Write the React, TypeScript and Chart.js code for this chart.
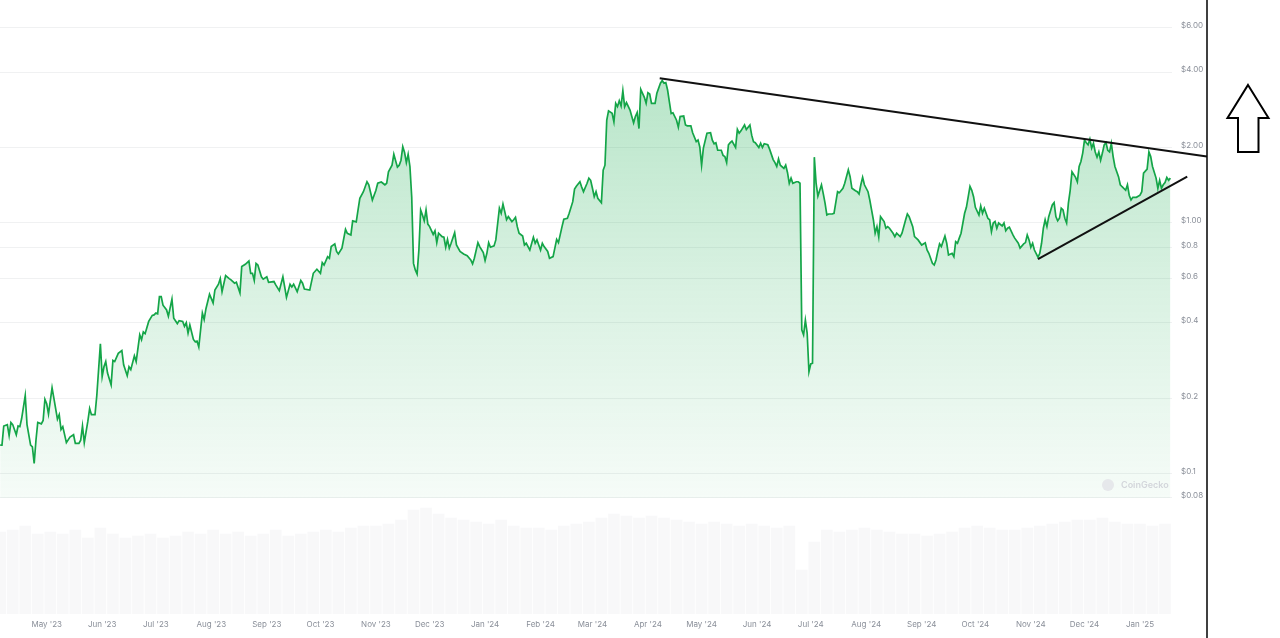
import React, { useEffect, useRef } from "react";
import { Chart, registerables } from "chart.js";

Chart.register(...registerables);

// x values are days since 1 May 2023
const monthDays = [0, 31, 61, 92, 123, 153, 184, 214, 245, 276, 305, 336, 366, 397, 427, 458, 489, 519, 550, 580, 611];
const monthLabels = ["May '23", "Jun '23", "Jul '23", "Aug '23", "Sep '23", "Oct '23", "Nov '23", "Dec '23", "Jan '24", "Feb '24", "Mar '24", "Apr '24", "May '24", "Jun '24", "Jul '24", "Aug '24", "Sep '24", "Oct '24", "Nov '24", "Dec '24", "Jan '25"];

const priceTicks = [0.08, 0.1, 0.2, 0.4, 0.6, 0.8, 1, 2, 4, 6];
const priceTickLabels = ["$0.08", "$0.1", "$0.2", "$0.4", "$0.6", "$0.8", "$1.00", "$2.00", "$4.00", "$6.00"];

// [day, price USD]
const price2023a: [number, number][] = [
  [-26, 0.13], [-25, 0.13], [-24, 0.155], [-22, 0.157], [-21, 0.142], [-20, 0.16], [-19, 0.157], [-17, 0.143], [-16, 0.155], [-15, 0.154], [-14, 0.166], [-12, 0.205], [-11, 0.157], [-9, 0.13], [-8, 0.128], [-7, 0.11], [-6, 0.136], [-5, 0.16], [-3, 0.158], [-2, 0.163], [-1, 0.198], [0, 0.19], [1, 0.173], [3, 0.22], [4, 0.2], [6, 0.165], [7, 0.172], [8, 0.15], [9, 0.154], [11, 0.133], [13, 0.14], [15, 0.143], [16, 0.132], [18, 0.132], [19, 0.136], [20, 0.155], [21, 0.133], [23, 0.162], [24, 0.182], [25, 0.172], [27, 0.172], [28, 0.205], [30, 0.33], [31, 0.244], [32, 0.267], [33, 0.28], [34, 0.252], [36, 0.226], [37, 0.283], [38, 0.28], [40, 0.302], [42, 0.31], [43, 0.272], [45, 0.246], [46, 0.267], [47, 0.26], [49, 0.295], [50, 0.28], [52, 0.358], [53, 0.342], [54, 0.368], [55, 0.362], [57, 0.405], [59, 0.428], [60, 0.43], [61, 0.437], [62, 0.434], [63, 0.508], [64, 0.508], [65, 0.47], [67, 0.45], [68, 0.425], [70, 0.497], [71, 0.417], [73, 0.397], [74, 0.408], [76, 0.405], [77, 0.387], [78, 0.4], [79, 0.364], [80, 0.392], [82, 0.343], [83, 0.336], [84, 0.338], [85, 0.32], [87, 0.437], [88, 0.412], [89, 0.455], [91, 0.52], [93, 0.48], [94, 0.54], [96, 0.57], [97, 0.6], [98, 0.532], [100, 0.617], [102, 0.6], [103, 0.593], [105, 0.575], [106, 0.58], [108, 0.526], [109, 0.67], [111, 0.684], [113, 0.705], [114, 0.63], [115, 0.63], [116, 0.59], [117, 0.69], [118, 0.68], [120, 0.61], [121, 0.597], [123, 0.61], [124, 0.58], [127, 0.584], [128, 0.566], [130, 0.537], [132, 0.61], [133, 0.556], [134, 0.505], [136, 0.57], [137, 0.556], [138, 0.57], [140, 0.532], [142, 0.59], [143, 0.575], [144, 0.545], [147, 0.54], [149, 0.63], [151, 0.654],
];
const price2023b: [number, number][] = [
  [153, 0.63], [154, 0.695], [155, 0.68], [157, 0.734], [158, 0.723], [159, 0.805], [161, 0.825], [162, 0.77], [163, 0.752], [165, 0.794], [167, 0.944], [168, 0.91], [170, 0.896], [171, 1.02], [173, 1.01], [174, 1.127], [175, 1.254], [177, 1.333], [179, 1.46], [180, 1.42], [182, 1.235], [184, 1.35], [185, 1.44], [187, 1.457], [189, 1.42], [190, 1.44], [191, 1.6], [193, 1.7], [194, 1.88], [196, 1.67], [197, 1.7], [198, 1.78], [199, 2.015], [200, 1.91], [201, 1.74], [202, 1.88], [203, 1.68], [204, 1.27], [205, 0.69], [206, 0.65], [207, 0.626], [208, 0.78], [209, 1.127], [210, 1.077], [211, 1.02], [212, 1.127], [213, 0.99], [214, 0.967], [216, 0.9], [217, 0.93], [218, 0.835], [219, 0.91], [221, 0.882], [222, 0.877], [223, 0.8], [224, 0.86], [225, 0.794], [226, 0.83], [228, 0.915], [229, 0.817], [231, 0.77], [233, 0.752], [235, 0.74], [237, 0.712], [238, 0.687], [239, 0.723], [241, 0.835], [242, 0.805], [244, 0.762],
];
const price2024a: [number, number][] = [
  [245, 0.708], [246, 0.757], [247, 0.835], [248, 0.8], [250, 0.81], [251, 0.856], [253, 1.145], [254, 1.093], [255, 1.19], [256, 1.11], [257, 1.03], [258, 1.06], [260, 1.013], [261, 1.03], [262, 1.054], [263, 0.967], [264, 0.91], [266, 0.887], [267, 0.817], [268, 0.83], [270, 0.78], [272, 0.877], [273, 0.83], [274, 0.856], [275, 0.817], [276, 0.78], [277, 0.83], [278, 0.805], [280, 0.77], [281, 0.723], [283, 0.734], [285, 0.86], [286, 0.835], [288, 0.967], [289, 1.035], [291, 1.044], [292, 1.093], [294, 1.216], [295, 1.366], [296, 1.4], [298, 1.46], [299, 1.39], [300, 1.333], [302, 1.44], [303, 1.51], [304, 1.48], [305, 1.375], [306, 1.273], [307, 1.333], [308, 1.254], [310, 1.205], [311, 1.625], [312, 1.7], [313, 2.57], [314, 2.8], [316, 2.74], [317, 2.53], [318, 3.0], [319, 2.91], [320, 3.07], [321, 2.93], [322, 3.37], [323, 2.91], [324, 3.02], [326, 2.82], [327, 2.66], [328, 2.51], [329, 2.66], [330, 2.76], [331, 2.38], [332, 3.41], [334, 3.17], [335, 3.0],
  [336, 3.31], [337, 3.27], [338, 3.0], [340, 3.0], [341, 3.29], [343, 3.61], [344, 3.7], [345, 3.61], [346, 3.63], [347, 3.39], [348, 3.04], [349, 2.73], [350, 2.75], [352, 2.57], [353, 2.41], [354, 2.66], [356, 2.67], [357, 2.46], [358, 2.44], [360, 2.44], [361, 2.29], [363, 2.11], [364, 2.14], [365, 2.01], [366, 1.7], [367, 1.99], [369, 2.28], [371, 2.29], [372, 2.14], [373, 2.07], [374, 2.09], [375, 1.95], [377, 1.95], [378, 1.86], [379, 1.84], [380, 1.74], [381, 2.05], [382, 2.09], [383, 2.12], [385, 2.0], [386, 2.36], [387, 2.28], [388, 2.33], [390, 2.46], [391, 2.36], [393, 2.46], [394, 2.24], [395, 2.11], [396, 2.09], [398, 2.0], [399, 2.08], [400, 2.0], [401, 2.07], [403, 2.05], [404, 1.97], [406, 1.79], [407, 1.74], [408, 1.68], [409, 1.8], [410, 1.7], [412, 1.65], [413, 1.7], [414, 1.59], [415, 1.44], [416, 1.51], [417, 1.44], [419, 1.46], [420, 1.46], [421, 1.44],
];
const price2024b: [number, number][] = [
  [422, 0.375], [423, 0.358], [424, 0.41], [425, 0.364], [426, 0.255], [427, 0.274], [428, 0.276], [429, 1.83], [430, 1.44], [431, 1.28], [433, 1.42], [434, 1.31], [435, 1.2], [436, 1.076], [437, 1.086], [439, 1.086], [440, 1.093], [442, 1.333], [443, 1.32], [445, 1.375], [446, 1.44], [448, 1.63], [449, 1.53], [450, 1.375], [452, 1.345], [453, 1.333], [454, 1.305], [455, 1.42], [456, 1.52], [457, 1.42], [459, 1.333], [460, 1.235], [461, 1.127], [462, 1.03], [463, 0.91], [464, 0.967], [465, 0.88], [466, 1.06], [468, 1.013], [469, 0.953], [470, 0.967], [471, 0.953], [473, 0.91], [474, 0.882], [475, 0.91], [477, 0.882], [478, 0.91], [480, 1.027], [481, 1.086], [482, 1.06], [484, 0.967], [485, 0.882], [487, 0.856], [489, 0.817], [491, 0.834], [492, 0.78], [493, 0.757], [495, 0.69], [496, 0.68], [497, 0.712], [498, 0.77], [499, 0.825], [500, 0.805], [502, 0.887], [503, 0.83], [504, 0.745], [506, 0.757], [507, 0.734], [508, 0.842], [509, 0.83], [510, 0.87], [511, 0.91], [513, 1.093], [514, 1.155], [516, 1.4], [517, 1.35], [518, 1.273],
  [519, 1.155], [521, 1.076], [522, 1.17], [523, 1.093], [524, 1.145], [526, 1.044], [527, 1.03], [528, 0.923], [529, 1.0], [530, 1.013], [531, 0.953], [532, 1.0], [534, 0.973], [535, 1.0], [536, 0.932], [537, 0.953], [538, 0.962], [540, 0.896], [541, 0.87], [543, 0.83], [544, 0.794], [546, 0.825], [547, 0.835], [548, 0.896], [549, 0.856], [550, 0.8], [551, 0.83], [552, 0.78], [554, 0.73], [555, 0.757], [556, 0.83], [557, 0.953], [558, 1.03], [559, 0.967], [560, 1.06], [562, 1.18], [563, 1.205], [564, 1.06], [565, 1.02], [566, 1.044], [567, 1.145], [568, 1.127], [569, 1.044], [570, 1.0], [571, 1.2], [572, 1.35], [573, 1.6], [575, 1.52], [576, 1.46], [577, 1.68], [578, 1.76], [579, 1.9],
];
const price2025: [number, number][] = [
  [580, 2.14], [581, 2.09], [582, 2.05], [583, 2.16], [584, 1.99], [585, 2.08], [586, 1.92], [587, 1.83], [588, 1.92], [589, 1.78], [590, 1.9], [591, 2.05], [592, 2.09], [593, 1.95], [594, 1.92], [595, 2.08], [596, 1.84], [597, 1.68], [599, 1.53], [600, 1.42], [601, 1.395], [603, 1.35], [604, 1.42], [605, 1.29], [606, 1.235], [607, 1.266], [609, 1.266], [611, 1.29], [612, 1.333], [613, 1.58], [615, 1.64], [616, 1.92], [617, 1.84], [618, 1.68], [620, 1.51], [621, 1.375], [622, 1.48], [623, 1.375], [624, 1.42], [625, 1.45], [626, 1.52], [627, 1.48], [628, 1.51],
];

// weekly volume ($M), weeks starting at day -26
const volumeStartDay = -26;
const volumeWeekly = [
  41, 42, 44, 40, 41, 40, 42, 38, 43, 40, 38, 39, 40, 38, 39, 41, 40, 42, 40, 41, 39, 40, 42, 39, 40, 41,
  42, 41, 43, 44, 44, 45, 47, 52, 53, 50, 48, 47, 46, 45, 47, 44, 43, 43, 42, 44, 45, 46, 48, 50, 49, 48,
  49, 48, 47, 46, 45, 46, 45, 44, 45, 44, 43, 44, 22, 36, 42, 41, 42, 43, 42, 41, 40, 40, 39, 40, 41, 43,
  44, 43, 42, 42, 43, 44, 45, 46, 47, 47, 48, 46, 45, 45, 44, 45,
];

// trend lines [day, price]
const resistanceLine: [number, number][] = [[342.6, 3.78], [648.4, 1.842]];
const supportLine: [number, number][] = [[554, 0.718], [637.4, 1.53]];

const X_MIN = -26.1;
const X_MAX = 628.9;
const Y_MIN = 0.02757;
const Y_MAX = 7.75;
const VOL_MAX = 307;

const FONT = "Inter, 'Noto Sans', sans-serif";
const LABEL_COLOR = "#8a8f99";

const decorPlugin = {
  id: "decor",
  afterDatasetsDraw(chart: any) {
    const { ctx, chartArea } = chart;
    const ys = chart.scales.y;
    const baseY = ys.getPixelForValue(0.08);
    ctx.save();
    const wx = chartArea.right - 64;
    const wy = baseY - 13;
    ctx.fillStyle = "#e6e8eb";
    ctx.beginPath();
    ctx.arc(wx, wy, 6, 0, Math.PI * 2);
    ctx.fill();
    ctx.fillStyle = "#d3d6db";
    ctx.font = `600 9px ${FONT}`;
    ctx.textBaseline = "middle";
    ctx.fillText("CoinGecko", wx + 13, wy);
    ctx.restore();
  },
  afterDraw(chart: any) {
    const { ctx, chartArea, height } = chart;
    ctx.save();
    const vx = chartArea.right + 35;
    ctx.strokeStyle = "#000";
    ctx.lineWidth = 1.5;
    ctx.beginPath();
    ctx.moveTo(vx, 0);
    ctx.lineTo(vx, height);
    ctx.stroke();
    const cx = vx + 41;
    ctx.lineWidth = 2;
    ctx.lineJoin = "miter";
    ctx.beginPath();
    ctx.moveTo(cx, 85);
    ctx.lineTo(cx + 20.5, 118);
    ctx.lineTo(cx + 10.5, 118);
    ctx.lineTo(cx + 10.5, 152);
    ctx.lineTo(cx - 10, 152);
    ctx.lineTo(cx - 10, 118);
    ctx.lineTo(cx - 20.5, 118);
    ctx.closePath();
    ctx.stroke();
    ctx.restore();
  },
};

export default function App() {
  const ref = useRef<HTMLCanvasElement>(null);

  useEffect(() => {
    const canvas = ref.current;
    if (!canvas) return;
    Chart.defaults.font.family = FONT;

    const prices = [...price2023a, ...price2023b, ...price2024a, ...price2024b, ...price2025].map(([x, y]) => ({ x, y }));
    const volumes = volumeWeekly.map((v, i) => ({ x: volumeStartDay + i * 7, y: v }));

    const chart = new Chart(canvas, {
      type: "line",
      data: {
        datasets: [
          {
            type: "line",
            data: resistanceLine.map(([x, y]) => ({ x, y })),
            borderColor: "#111",
            borderWidth: 2,
            pointRadius: 0,
            fill: false,
            clip: false,
            yAxisID: "y",
            order: 0,
          } as any,
          {
            type: "line",
            data: supportLine.map(([x, y]) => ({ x, y })),
            borderColor: "#111",
            borderWidth: 2,
            pointRadius: 0,
            fill: false,
            clip: false,
            yAxisID: "y",
            order: 0,
          } as any,
          {
            type: "line",
            data: prices,
            borderColor: "rgb(20,165,72)",
            borderWidth: 1.7,
            pointRadius: 0,
            tension: 0,
            yAxisID: "y",
            fill: { value: 0.08 },
            backgroundColor: (c: any) => {
              const ch = c.chart;
              if (!ch.chartArea) return "rgba(20,165,72,0.12)";
              const ys = ch.scales.y;
              const g = ch.ctx.createLinearGradient(0, ys.getPixelForValue(3.8), 0, ys.getPixelForValue(0.08));
              g.addColorStop(0, "rgba(20,170,75,0.30)");
              g.addColorStop(0.5, "rgba(20,170,75,0.16)");
              g.addColorStop(1, "rgba(20,170,75,0.04)");
              return g;
            },
            order: 1,
          } as any,
          {
            type: "bar",
            data: volumes,
            yAxisID: "yv",
            backgroundColor: "rgba(120,132,150,0.055)",
            barThickness: 11,
            order: 2,
          } as any,
        ],
      },
      options: {
        animation: false,
        responsive: true,
        maintainAspectRatio: false,
        layout: { padding: 0 },
        plugins: { legend: { display: false }, tooltip: { enabled: false } },
        events: [],
        scales: {
          x: {
            type: "linear",
            min: X_MIN,
            max: X_MAX,
            offset: false,
            grid: { display: false, offset: false, drawTicks: false },
            border: { display: false },
            ticks: {
              autoSkip: false,
              maxRotation: 0,
              padding: 6,
              color: LABEL_COLOR,
              font: { size: 8, family: FONT },
              callback: (_v: any, i: number) => monthLabels[i],
            },
            afterBuildTicks: (s: any) => {
              s.ticks = monthDays.map((v) => ({ value: v }));
            },
            afterFit: (s: any) => {
              s.height = 24;
              s.paddingLeft = 0;
              s.paddingRight = 0;
            },
          },
          y: {
            type: "logarithmic",
            position: "right",
            min: Y_MIN,
            max: Y_MAX,
            grid: { color: "#f0f1f2", drawTicks: false, lineWidth: 1 },
            border: { display: false },
            ticks: {
              autoSkip: false,
              padding: 9,
              labelOffset: -2,
              color: LABEL_COLOR,
              font: { size: 8, family: FONT },
              callback: (_v: any, i: number) => priceTickLabels[i],
            },
            afterBuildTicks: (s: any) => {
              s.ticks = priceTicks.map((v) => ({ value: v }));
            },
            afterFit: (s: any) => {
              s.width = 108;
              s.paddingTop = 0;
              s.paddingBottom = 0;
            },
          },
          yv: {
            type: "linear",
            display: false,
            min: 0,
            max: VOL_MAX,
          },
        },
      } as any,
      plugins: [decorPlugin],
    });
    return () => chart.destroy();
  }, []);

  return (
    <div style={{ position: "fixed", left: 0, top: 0, width: 1280, height: 638, background: "#fff" }}>
      <canvas ref={ref} />
    </div>
  );
}
